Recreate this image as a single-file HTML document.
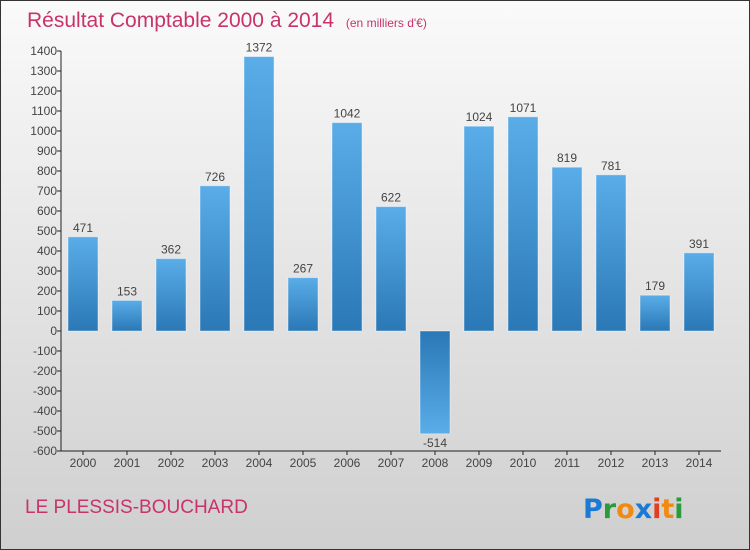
<!DOCTYPE html>
<html><head><meta charset="utf-8"><style>
body{margin:0}
#c{width:748px;height:548px;border:1px solid #333;background:linear-gradient(#fafafa,#cfcfcf);position:relative;font-family:"Liberation Sans","DejaVu Sans",sans-serif}
</style></head><body>
<div id="c">
<svg id="s" width="748" height="548" style="position:absolute;left:0;top:0">
<defs>
<linearGradient id="gp" x1="0" y1="0" x2="0" y2="1"><stop offset="0" stop-color="#5aade8"/><stop offset="1" stop-color="#2a78b6"/></linearGradient>
<linearGradient id="gn" x1="0" y1="0" x2="0" y2="1"><stop offset="0" stop-color="#2a78b6"/><stop offset="1" stop-color="#5aade8"/></linearGradient>
</defs>
<text x="26" y="26" font-size="21" fill="#c8336a">Résultat Comptable 2000 à 2014 <tspan font-size="12" dx="6">(en milliers d'€)</tspan></text>
<text x="24" y="512" font-size="19" fill="#c8336a">LE PLESSIS-BOUCHARD</text>
<g font-size="27" font-weight="bold" font-family="'DejaVu Sans',sans-serif">
<text x="582" y="517"><tspan fill="#1a7ad4">P</tspan><tspan fill="#2a9a3a">r</tspan><tspan fill="#f08a10">o</tspan><tspan fill="#1a7ad4">x</tspan><tspan fill="#e04020">i</tspan><tspan fill="#f08a10">t</tspan><tspan fill="#2a9a3a">i</tspan></text>
</g>
<g id="plot"></g>
</svg>
</div>
<script>
const categories=["2000","2001","2002","2003","2004","2005","2006","2007","2008","2009","2010","2011","2012","2013","2014"];
const values=[471,153,362,726,1372,267,1042,622,-514,1024,1071,819,781,179,391];
const ticks=[1400,1300,1200,1100,1000,900,800,700,600,500,400,300,200,100,0,-100,-200,-300,-400,-500,-600];
const NS="http://www.w3.org/2000/svg";
const g=document.getElementById('plot');
const x0=60,x1=720,band=(x1-x0)/categories.length,bw=30;
function y(v){return 330-v*0.2;}
function xc(i){return x0+band*(i+0.5);}
function mk(t,a,txt){const e=document.createElementNS(NS,t);for(const k in a)e.setAttribute(k,a[k]);if(txt!==undefined)e.textContent=txt;g.appendChild(e);return e;}
let e=mk('line',{x1:x0,y1:y(1400),x2:x0,y2:y(-600),stroke:'#222'});


e=mk('line',{x1:x0,y1:y(-600),x2:x1,y2:y(-600),stroke:'#222'});


ticks.forEach(t=>{
 mk('line',{x1:x0-4,y1:y(t),x2:x0,y2:y(t),stroke:'#222'});
 e=mk('text',{x:x0-4,y:y(t)+4,'font-size':12,'text-anchor':'end',fill:'#444'},t);
 
 
});
categories.forEach((c,i)=>{
 const v=values[i],cx=xc(i);
 mk('line',{x1:cx,y1:y(-600),x2:cx,y2:y(-600)+4,stroke:'#222'});
 e=mk('text',{x:cx,y:y(-600)+16,'font-size':12,'text-anchor':'middle',fill:'#444'},c);
 
 
 const top=Math.min(y(v),y(0)),h=Math.abs(y(v)-y(0));
 e=mk('rect',{x:cx-bw/2,y:top,width:bw,height:h,fill:v>=0?'url(#gp)':'url(#gn)',stroke:'#fff','stroke-opacity':0.4});
 
 
 e=mk('text',{x:cx,y:v>=0?y(v)-5:y(v)+13,'font-size':12,'text-anchor':'middle',fill:'#444'},v);
 
 
});
</script>
</body></html>
